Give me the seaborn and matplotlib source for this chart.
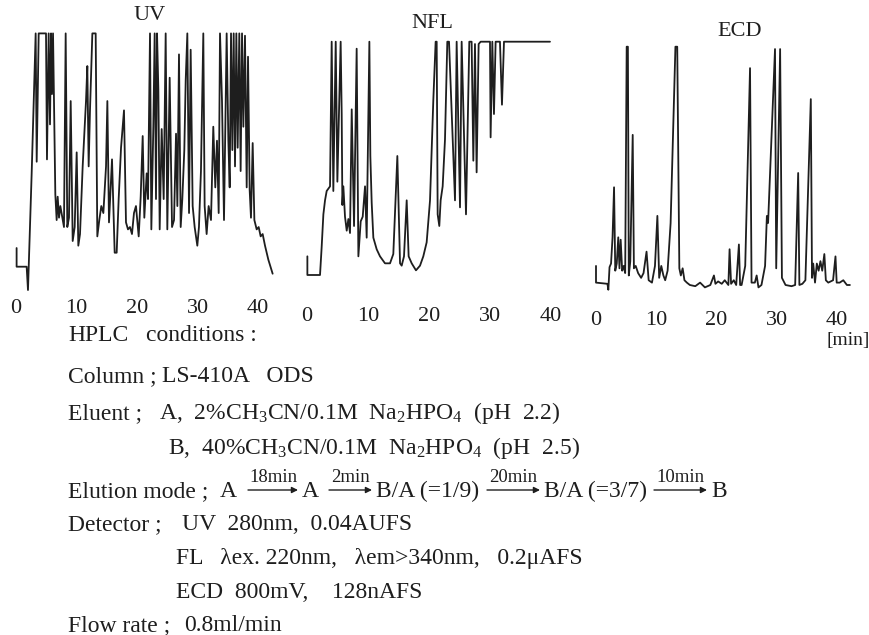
import matplotlib
matplotlib.use("Agg")
import matplotlib.pyplot as plt
import pandas as pd
import seaborn as sns

# ---------------------------------------------------------------- data
# UV detector (280 nm): retention time (min) and response (% of full scale)
UV_TIME = [0.10, 0.10, 1.76, 1.98, 2.59, 3.25, 3.42, 3.75, 4.96, 5.12,
           5.40, 5.62, 5.79, 5.95, 6.12, 6.50, 6.72, 6.89, 7.11, 7.33,
           7.93, 8.21, 8.48, 8.76, 9.04, 9.37, 9.70, 10.03, 10.30, 10.58,
           11.02, 11.57, 11.79, 12.01, 12.23, 12.62, 13.17, 13.44, 13.77, 14.10,
           14.44, 14.88, 15.10, 15.37, 15.87, 16.31, 16.64, 16.97, 17.36, 17.85,
           18.18, 18.51, 18.84, 19.17, 19.50, 19.83, 20.28, 20.61, 20.94, 21.21,
           21.60, 21.82, 22.15, 22.37, 22.70, 22.92, 23.14, 23.31, 23.53, 23.75,
           24.08, 24.41, 24.74, 25.01, 25.40, 25.79, 26.12, 26.45, 26.67, 26.94,
           27.22, 27.49, 27.82, 28.05, 28.32, 28.60, 28.87, 29.20, 29.53, 29.97,
           30.24, 30.57, 30.96, 31.18, 31.51, 31.84, 32.23, 32.61, 32.94, 33.22,
           33.50, 33.72, 34.05, 34.38, 34.82, 35.10, 35.32, 35.54, 35.76, 35.98,
           36.20, 36.42, 36.64, 36.91, 37.13, 37.36, 37.58, 37.85, 38.13, 38.35,
           38.62, 38.84, 39.12, 39.40, 39.78, 40.11, 40.44, 40.77, 41.16, 41.71,
           42.42]
UV_SIGNAL = [8, 0, 0, -10, 40, 100, 45, 100, 100, 46,
             100, 61, 100, 74, 100, 31, 20, 30, 21, 26,
             17, 100, 17, 21, 71, 11, 17, 49, 9, 14,
             43, 71, 86, 43, 67, 100, 100, 13, 20, 26,
             23, 43, 71, 19, 46, 6, 6, 29, 51, 67,
             19, 16, 17, 14, 23, 26, 13, 30, 56, 21,
             40, 29, 100, 16, 60, 100, 29, 100, 76, 16,
             59, 29, 100, 16, 81, 17, 20, 57, 26, 91,
             17, 29, 50, 80, 100, 23, 93, 26, 17, 9,
             17, 41, 100, 26, 14, 26, 20, 60, 34, 54,
             23, 100, 71, 20, 100, 54, 34, 100, 50, 100,
             43, 100, 51, 100, 41, 100, 60, 99, 34, 90,
             33, 21, 53, 20, 16, 17, 13, 14, 9, 3,
             -3]

# native fluorescence detector
NFL_TIME = [0.11, 0.11, 2.18, 2.45, 2.73, 3.00, 3.27, 3.82, 4.09, 4.36,
            4.75, 5.02, 5.56, 5.73, 5.84, 6.00, 6.27, 6.55, 6.82, 7.09,
            7.37, 7.75, 8.18, 8.46, 8.84, 9.17, 9.55, 9.82, 10.26, 10.42,
            10.64, 10.91, 11.46, 12.00, 12.82, 13.64, 14.18, 14.84, 15.28, 15.55,
            15.93, 16.37, 16.69, 17.19, 17.89, 18.55, 19.09, 19.64, 20.19, 20.73,
            21.11, 21.28, 21.44, 21.71, 21.93, 22.26, 22.64, 23.02, 23.30, 24.28,
            24.55, 25.10, 25.37, 26.08, 26.62, 27.00, 27.28, 27.55, 27.82, 28.15,
            28.48, 30.01, 30.11, 30.39, 30.66, 30.93, 31.64, 31.97, 32.30, 39.83]
NFL_SIGNAL = [8, 0, 0, 12, 26, 32, 36, 38, 100, 36,
              100, 40, 100, 69, 30, 38, 25, 19, 24, 18,
              71, 21, 97, 8, 23, 25, 38, 16, 100, 51,
              31, 16, 11, 8, 5, 5, 9, 51, 5, 4,
              8, 32, 8, 5, 2, 4, 8, 14, 32, 75,
              100, 100, 26, 21, 32, 38, 58, 100, 100, 32,
              100, 29, 100, 26, 100, 100, 49, 99, 44, 99,
              100, 100, 59, 100, 69, 100, 100, 73, 100, 100]

# electrochemical detector (800 mV)
ECD_TIME = [0.00, 0.00, 1.90, 2.05, 2.25, 2.50, 2.75, 3.00, 3.20, 3.45,
            3.70, 3.90, 4.10, 4.35, 4.60, 4.85, 5.10, 5.30, 5.45, 5.70,
            6.10, 6.30, 6.60, 7.00, 7.50, 7.90, 8.40, 8.75, 9.30, 9.80,
            10.20, 10.50, 10.85, 11.20, 11.50, 11.90, 12.40, 13.20, 13.50, 13.85,
            14.10, 14.40, 14.70, 15.10, 15.60, 16.50, 17.30, 18.10, 19.00, 19.60,
            19.85, 20.30, 20.90, 21.40, 22.00, 22.20, 22.45, 22.90, 23.30, 23.75,
            23.95, 24.20, 24.80, 25.60, 25.85, 26.40, 26.70, 27.00, 27.50, 28.10,
            28.40, 28.60, 29.75, 29.95, 30.60, 30.90, 31.50, 32.50, 33.10, 33.60,
            33.80, 34.30, 34.80, 35.70, 35.90, 36.10, 36.40, 36.70, 37.00, 37.30,
            37.60, 37.95, 38.20, 38.60, 39.40, 39.80, 40.00, 40.50, 41.10, 41.70,
            42.20]
ECD_SIGNAL = [8, 1, 0.5, -2, 7.5, 9, 20, 41, 6, 9,
              20, 7, 19, 6, 8, 5, 100, 100, 4, 10,
              63, 7, 8, 5, 3, 5, 14, 2, 1, 8,
              29, 3, 8, 4, 2, 6, 26, 100, 100, 7,
              4, 7, 2, 1, 0, -0.5, 1, -1, 0, 4,
              0.5, 1.5, 0.5, 2, 0, 15, 0.5, 2, 0, 17,
              0, 0, 8, 91, 1, 1, 4, -1, 0, 8,
              29, 26, 99, 7, 99, 3, 0, -0.5, 0, 47,
              0, 0.5, 2, 78, 3, 9, 1, 9, 6, 10,
              6, 13, 2, 1, 2, 12, 1, 1, 2, 0,
              0]

TICKS = [0, 10, 20, 30, 40]
TICK_LABELS = ["0", "10", "20", "30", "40"]
PANEL_TITLES = ["UV", "NFL", "ECD"]
TIME_UNIT = "[min]"

# chromatographic conditions
HEADING = ("HPLC", "conditions :")
COLUMN = ("Column ;", "LS-410A   ODS")
ELUENT = ("Eluent ;", r"A,  2%CH$_3$CN/0.1M  Na$_2$HPO$_4$  (pH  2.2)",
          r"B,  40%CH$_3$CN/0.1M  Na$_2$HPO$_4$  (pH  2.5)")
ELUTION_HEAD = ("Elution mode ;", "A")
ELUTION_STEPS = [("18min", "A"), ("2min", "B/A (=1/9)"),
                 ("20min", "B/A (=3/7)"), ("10min", "B")]
DETECTOR = ("Detector ;", "UV  280nm,  0.04AUFS",
            "FL   λex. 220nm,   λem>340nm,   0.2μAFS",
            "ECD  800mV,    128nAFS")
FLOW = ("Flow rate ;", "0.8ml/min")

# ---------------------------------------------------------------- style
W, H = 869, 635
INK = "#1e1e1e"
sns.set_theme(style="white")
plt.rcParams["font.family"] = ["Liberation Serif", "DejaVu Serif"]
plt.rcParams["mathtext.fontset"] = "custom"
plt.rcParams["mathtext.rm"] = "Liberation Serif"
plt.rcParams["mathtext.it"] = "Liberation Serif:italic"
plt.rcParams["mathtext.bf"] = "Liberation Serif:bold"
plt.rcParams["text.color"] = INK

fig = plt.figure(figsize=(W / 100, H / 100), dpi=100)
fig.patch.set_facecolor("white")

# panel geometry in pixels: box, position of t=0, px per minute,
# baseline row, px per response unit, tick-label pad, title centre
panels = [
    dict(time=UV_TIME, signal=UV_SIGNAL, left=0, right=290, bottom=287,
         t0=16.0, ppm=6.05, s0=266.7, ppu=2.333, pad=4.5, title=(150, 15)),
    dict(time=NFL_TIME, signal=NFL_SIGNAL, left=290, right=580, bottom=293,
         t0=306.7, ppm=6.108, s0=275.0, ppu=2.333, pad=5.5, title=(432, 24)),
    dict(time=ECD_TIME, signal=ECD_SIGNAL, left=580, right=869, bottom=300,
         t0=596.0, ppm=6.017, s0=285.0, ppu=2.383, pad=3.5, title=(740, 31)),
]

for p in panels:
    ax = fig.add_axes([p["left"] / W, 1 - p["bottom"] / H,
                       (p["right"] - p["left"]) / W, p["bottom"] / H])
    df = pd.DataFrame({"time": p["time"], "signal": p["signal"]})
    sns.lineplot(data=df, x="time", y="signal", sort=False, estimator=None,
                 color=INK, lw=1.3, ax=ax, clip_on=False)
    ax.set_xlim((p["left"] - p["t0"]) / p["ppm"], (p["right"] - p["t0"]) / p["ppm"])
    ax.set_ylim((p["s0"] - p["bottom"]) / p["ppu"], p["s0"] / p["ppu"])
    ax.set_xticks(TICKS)
    ax.set_xticklabels(TICK_LABELS)
    ax.set_yticks([])
    ax.set_xlabel("")
    ax.set_ylabel("")
    for sp in ax.spines.values():
        sp.set_visible(False)
    ax.tick_params(axis="x", direction="out", length=4.5, width=1.1,
                   color=INK, labelsize=16, pad=p["pad"], labelcolor=INK)
    ax.patch.set_alpha(0)

# overlay in pixel units for titles and the conditions block
ov = fig.add_axes([0, 0, 1, 1])
ov.set_xlim(0, W)
ov.set_ylim(H, 0)
ov.axis("off")
ov.patch.set_alpha(0)

for name, p in zip(PANEL_TITLES, panels):
    ov.text(p["title"][0], p["title"][1], name, ha="center", va="center",
            fontsize=16)
ov.text(848, 341, TIME_UNIT, ha="center", va="center", fontsize=14)

FS = 17
LX = 68


def put(x, y, s, **kw):
    ov.text(x, y, s, fontsize=kw.pop("fontsize", FS), va="baseline", **kw)


put(LX, 341, HEADING[0])
put(146, 341, HEADING[1])
put(LX, 382, COLUMN[0])
put(162, 382, COLUMN[1])
put(LX, 419, ELUENT[0])
put(159, 419, ELUENT[1])
put(168, 454, ELUENT[2])

# elution programme with labelled arrows
put(LX, 497, ELUTION_HEAD[0])
put(220, 497, ELUTION_HEAD[1])
arrow_spans = [(248, 298, 302), (329, 372, 376), (487, 540, 544), (654, 707, 711)]
for (label, target), (x1, x2, xt) in zip(ELUTION_STEPS, arrow_spans):
    ov.annotate("", xy=(x2, 490), xytext=(x1, 490),
                arrowprops=dict(arrowstyle="-|>", lw=1.0, color=INK,
                                mutation_scale=9, shrinkA=0, shrinkB=0))
    ov.text((x1 + x2) / 2, 482, label, ha="center", va="baseline", fontsize=13.5)
    put(xt, 497, target)

put(LX, 530, DETECTOR[0])
put(182, 530, DETECTOR[1])
put(176, 564, DETECTOR[2])
put(176, 598, DETECTOR[3])
put(LX, 631, FLOW[0])
put(184, 631, FLOW[1])

fig.savefig("out.png", dpi=100, facecolor="white")
